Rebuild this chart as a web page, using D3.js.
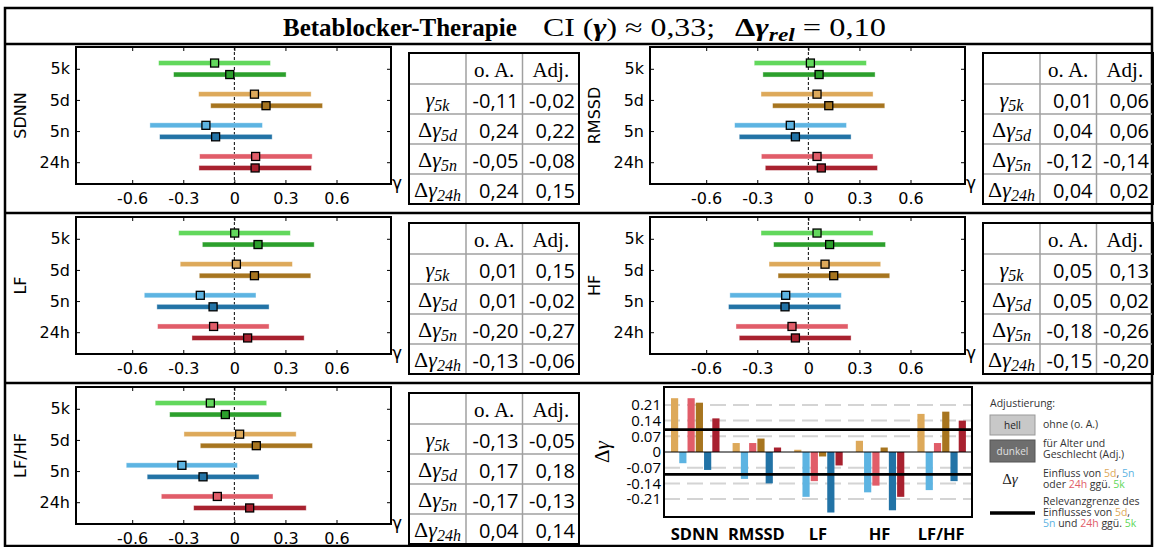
<!DOCTYPE html>
<html>
<head>
<meta charset="utf-8">
<script src="https://cdn.jsdelivr.net/npm/d3@7"></script>
<style>
body { margin: 0; background: #fff; }
svg text { white-space: pre; }
</style>
</head>
<body>
<div id="chart"></div>
<script>
var categories = ["5k", "5d", "5n", "24h"];
var gammaTicks = [-0.6, -0.3, 0, 0.3, 0.6];

// [estimate, lower, upper] -- per time point: first o. A., then Adj.
var sdnnCI = [
    [-0.116, -0.445, 0.212], [-0.027, -0.357, 0.304],
    [0.118, -0.210, 0.451], [0.186, -0.139, 0.518],
    [-0.167, -0.496, 0.165], [-0.110, -0.439, 0.222],
    [0.125, -0.204, 0.457], [0.122, -0.208, 0.453]
];
var rmssdCI = [
    [0.012, -0.318, 0.341], [0.063, -0.267, 0.392],
    [0.051, -0.278, 0.380], [0.120, -0.210, 0.449],
    [-0.106, -0.433, 0.224], [-0.076, -0.406, 0.251],
    [0.051, -0.276, 0.380], [0.076, -0.253, 0.406]
];
var lfCI = [
    [0.002, -0.327, 0.329], [0.139, -0.188, 0.469],
    [0.012, -0.318, 0.341], [0.118, -0.206, 0.449],
    [-0.200, -0.529, 0.127], [-0.125, -0.455, 0.204],
    [-0.122, -0.451, 0.204], [0.078, -0.249, 0.410]
];
var hfCI = [
    [0.051, -0.278, 0.380], [0.125, -0.204, 0.453],
    [0.098, -0.231, 0.425], [0.149, -0.178, 0.478],
    [-0.133, -0.461, 0.194], [-0.137, -0.469, 0.190],
    [-0.096, -0.425, 0.233], [-0.076, -0.406, 0.251]
];
var lfhfCI = [
    [-0.141, -0.465, 0.190], [-0.053, -0.380, 0.276],
    [0.031, -0.296, 0.363], [0.129, -0.200, 0.459],
    [-0.308, -0.635, 0.018], [-0.184, -0.512, 0.145],
    [-0.100, -0.429, 0.227], [0.090, -0.239, 0.422]
];

// table values: gamma_5k, dgamma_5d, dgamma_5n, dgamma_24h
var tableHead = ["o. A.", "Adj."];
var sdnnOA = [-0.11, 0.24, -0.05, 0.24];
var sdnnAdj = [-0.02, 0.22, -0.08, 0.15];
var rmssdOA = [0.01, 0.04, -0.12, 0.04];
var rmssdAdj = [0.06, 0.06, -0.14, 0.02];
var lfOA = [0.01, 0.01, -0.20, -0.13];
var lfAdj = [0.15, -0.02, -0.27, -0.06];
var hfOA = [0.05, 0.05, -0.18, -0.15];
var hfAdj = [0.13, 0.02, -0.26, -0.20];
var lfhfOA = [-0.13, 0.17, -0.17, 0.04];
var lfhfAdj = [-0.05, 0.18, -0.13, 0.14];

var measures = ["SDNN", "RMSSD", "LF", "HF", "LF/HF"];
var deltaTicks = [-0.21, -0.14, -0.07, 0, 0.07, 0.14, 0.21];
var relevance = 0.10;

var lightColor = {"5k": "#62d85c", "5d": "#dda95a", "5n": "#5db4e2", "24h": "#e15d69"};
var darkColor = {"5k": "#2ca02c", "5d": "#a7751f", "5n": "#2273a6", "24h": "#a8212f"};

var W = 1155, H = 547;
var plotW = 315, plotH = 137;
var colX = [0, 574];
var rowY = [0, 170, 340];

var svg = d3.select("#chart").append("svg")
    .attr("width", W)
    .attr("height", H);

function fmtTick(d){
    return d === 0 ? "0" : d3.format(".1f")(d).replace("\u2212", "-");
}
function fmtComma(d){
    return d3.format(".2f")(d).replace("\u2212", "-").replace(".", ",");
}

// ---- frame + title
svg.append("rect")
    .attr("x", 5).attr("y", 8)
    .attr("width", 1147).attr("height", 538)
    .attr("fill", "none").attr("stroke", "#000").attr("stroke-width", 2.5);
[44, 213, 383].forEach(function(yy){
    svg.append("line")
        .attr("x1", 5).attr("x2", 1152).attr("y1", yy).attr("y2", yy)
        .attr("stroke", "#000").attr("stroke-width", 2.5);
});

var tfont = "Liberation Serif";
svg.append("text")
    .attr("x", 283).attr("y", 36)
    .style("font-family", tfont).style("font-size", "25px").style("font-weight", "bold")
    .text("Betablocker-Therapie");

var t2 = svg.append("text")
    .attr("x", 543).attr("y", 36)
    .attr("textLength", 172).attr("lengthAdjust", "spacingAndGlyphs")
    .style("font-family", tfont).style("font-size", "25px");
t2.append("tspan").text("CI (");
t2.append("tspan").style("font-weight", "bold").style("font-style", "italic").text("\u03b3");
t2.append("tspan").text(") \u2248 0,33;");

var t3 = svg.append("text")
    .attr("x", 735).attr("y", 36)
    .attr("textLength", 151).attr("lengthAdjust", "spacingAndGlyphs")
    .style("font-family", tfont).style("font-size", "25px");
t3.append("tspan").style("font-weight", "bold").text("\u0394");
t3.append("tspan").style("font-weight", "bold").style("font-style", "italic").text("\u03b3");
t3.append("tspan").attr("dy", 5).style("font-size", "18px").style("font-weight", "bold").style("font-style", "italic").text("rel");
t3.append("tspan").attr("dy", -5).text(" = 0,10");

var panels = [
    {name: "SDNN", ci: sdnnCI, oa: sdnnOA, adj: sdnnAdj, col: 0, row: 0},
    {name: "RMSSD", ci: rmssdCI, oa: rmssdOA, adj: rmssdAdj, col: 1, row: 0},
    {name: "LF", ci: lfCI, oa: lfOA, adj: lfAdj, col: 0, row: 1},
    {name: "HF", ci: hfCI, oa: hfOA, adj: hfAdj, col: 1, row: 1},
    {name: "LF/HF", ci: lfhfCI, oa: lfhfOA, adj: lfhfAdj, col: 0, row: 2}
];

function drawForest(p){
    var g = svg.append("g")
        .attr("transform", "translate(" + (76 + colX[p.col]) + "," + (47 + rowY[p.row]) + ")");
    var x = d3.scaleLinear().domain([-0.93, 0.92]).range([0, plotW]);
    var y = d3.scalePoint().domain(categories).range([0, plotH]).padding(0.7);

    g.append("line")
        .attr("x1", x(0)).attr("x2", x(0)).attr("y1", 0).attr("y2", plotH)
        .attr("stroke", "#000").attr("stroke-width", 1).attr("stroke-dasharray", "3,2");

    var rows = p.ci.map(function(d, i){
        return {cat: categories[Math.floor(i / 2)], adj: i % 2 === 1, est: d[0], lo: d[1], hi: d[2]};
    });
    function yOf(d){ return y(d.cat) + (d.adj ? 5.75 : -5.75); }
    function colOf(d){ return (d.adj ? darkColor : lightColor)[d.cat]; }

    g.selectAll(".ci").data(rows).enter().append("rect")
        .attr("class", "ci")
        .attr("x", function(d){ return x(d.lo); })
        .attr("width", function(d){ return x(d.hi) - x(d.lo); })
        .attr("y", function(d){ return yOf(d) - 2.5; })
        .attr("height", 5)
        .attr("fill", colOf)
        .attr("stroke", "#fff").attr("stroke-opacity", 0.5).attr("stroke-width", 0.8);

    g.selectAll(".est").data(rows).enter().append("rect")
        .attr("class", "est")
        .attr("x", function(d){ return x(d.est) - 4; })
        .attr("y", function(d){ return yOf(d) - 4; })
        .attr("width", 8).attr("height", 8)
        .attr("fill", colOf)
        .attr("stroke", "#000").attr("stroke-width", 1.3);

    var ax = [
        g.append("g").attr("transform", "translate(0," + plotH + ")")
            .call(d3.axisBottom(x).tickValues(gammaTicks).tickSize(-4).tickPadding(9).tickFormat(fmtTick)),
        g.append("g")
            .call(d3.axisTop(x).tickValues(gammaTicks).tickSize(-4).tickFormat("")),
        g.append("g")
            .call(d3.axisLeft(y).tickSize(-4).tickPadding(6)),
        g.append("g").attr("transform", "translate(" + plotW + ",0)")
            .call(d3.axisRight(y).tickSize(-4).tickFormat(""))
    ];
    ax.forEach(function(a){
        a.select(".domain").remove();
        a.attr("font-family", "DejaVu Sans").attr("font-size", 16);
        a.selectAll("text").attr("fill", "#000");
    });

    g.append("rect")
        .attr("width", plotW).attr("height", plotH)
        .attr("fill", "none").attr("stroke", "#000").attr("stroke-width", 2);

    g.append("text")
        .attr("transform", "translate(-50," + (plotH / 2) + ") rotate(-90)")
        .attr("text-anchor", "middle")
        .style("font-family", "DejaVu Sans").style("font-size", "16px")
        .text(p.name);

    g.append("text")
        .attr("x", plotW + 1).attr("y", plotH + 5)
        .style("font-family", "DejaVu Sans").style("font-size", "17px")
        .text("\u03b3");
}

function drawTable(p){
    var colW = [57, 56.5, 56.5];
    var headH = 31, rowH = 30;
    var tw = d3.sum(colW), th = headH + rowH * 4;
    var g = svg.append("g")
        .attr("transform", "translate(" + (409 + colX[p.col]) + "," + (53 + rowY[p.row]) + ")");
    var cx = [0, colW[0], colW[0] + colW[1], tw];

    // inner grid
    [1, 2].forEach(function(i){
        g.append("line").attr("x1", cx[i]).attr("x2", cx[i]).attr("y1", 0).attr("y2", th)
            .attr("stroke", "#a0a0a0").attr("stroke-width", 1.5);
    });
    d3.range(4).forEach(function(i){
        var yy = headH + rowH * i;
        g.append("line").attr("x1", 0).attr("x2", tw).attr("y1", yy).attr("y2", yy)
            .attr("stroke", "#a0a0a0").attr("stroke-width", 1.5);
    });
    g.append("rect").attr("width", tw).attr("height", th)
        .attr("fill", "none").attr("stroke", "#000").attr("stroke-width", 2);

    tableHead.forEach(function(h, i){
        g.append("text")
            .attr("x", (cx[i + 1] + cx[i + 2]) / 2).attr("y", headH - 7)
            .attr("text-anchor", "middle")
            .style("font-family", "Liberation Serif").style("font-size", "21px")
            .text(h);
    });

    categories.forEach(function(c, i){
        var base = headH + rowH * (i + 1) - 7;
        var lab = g.append("text")
            .attr("x", colW[0] / 2).attr("y", base)
            .attr("text-anchor", "middle")
            .style("font-family", "Liberation Serif").style("font-size", "22px");
        if (i > 0) lab.append("tspan").text("\u0394");
        lab.append("tspan").style("font-style", "italic").text("\u03b3");
        lab.append("tspan").attr("dy", 4).style("font-style", "italic").style("font-size", "16px").text(c);

        [p.oa[i], p.adj[i]].forEach(function(v, j){
            g.append("text")
                .attr("x", cx[j + 2] - 4).attr("y", base + 1)
                .attr("text-anchor", "end")
                .style("font-family", "Open Sans").style("font-size", "20px")
                .text(fmtComma(v));
        });
    });
}

panels.forEach(function(p){
    drawForest(p);
    drawTable(p);
});

// ---- bar chart of delta gamma
(function(){
    var left = 664, right = 972, top = 387, bottom = 517;
    var g = svg.append("g");
    var xb = d3.scaleBand().domain(measures).range([left, right]);
    var inner = d3.scaleBand().domain(d3.range(6)).range([7, 55.5]).paddingInner(0.13);
    var yb = d3.scaleLinear().domain([-0.29, 0.29]).range([bottom, top]);

    g.selectAll(".grid").data(deltaTicks.filter(function(d){ return d !== 0; })).enter().append("line")
        .attr("class", "grid")
        .attr("x1", left).attr("x2", right)
        .attr("y1", function(d){ return yb(d); }).attr("y2", function(d){ return yb(d); })
        .attr("stroke", "#d4d4d4").attr("stroke-width", 2).attr("stroke-dasharray", "16,7");

    var bars = [];
    panels.forEach(function(p){
        var slots = [1, 2, 3];
        slots.forEach(function(k, j){
            bars.push({m: p.name, slot: j, v: p.oa[k], c: lightColor[categories[k]]});
        });
        slots.forEach(function(k, j){
            bars.push({m: p.name, slot: j + 3, v: p.adj[k], c: darkColor[categories[k]]});
        });
    });

    g.selectAll(".bar").data(bars).enter().append("rect")
        .attr("class", "bar")
        .attr("x", function(d){ return xb(d.m) + inner(d.slot); })
        .attr("width", inner.bandwidth())
        .attr("y", function(d){ return yb(Math.max(0, d.v)); })
        .attr("height", function(d){ return Math.abs(yb(d.v) - yb(0)); })
        .attr("fill", function(d){ return d.c; });

    g.append("line")
        .attr("x1", left).attr("x2", right).attr("y1", yb(0)).attr("y2", yb(0))
        .attr("stroke", "#000").attr("stroke-width", 1);
    [relevance, -relevance].forEach(function(r){
        g.append("line")
            .attr("x1", left).attr("x2", right).attr("y1", yb(r)).attr("y2", yb(r))
            .attr("stroke", "#000").attr("stroke-width", 2.8);
    });

    g.append("rect")
        .attr("x", left).attr("y", top)
        .attr("width", right - left).attr("height", bottom - top)
        .attr("fill", "none").attr("stroke", "#000").attr("stroke-width", 2);

    var ay = g.append("g").attr("transform", "translate(" + left + ",0)")
        .call(d3.axisLeft(yb).tickValues(deltaTicks).tickSize(0).tickPadding(3)
            .tickFormat(function(d){ return d === 0 ? "0" : d3.format(".2f")(d).replace("\u2212", "-"); }));
    ay.select(".domain").remove();
    ay.attr("font-family", "Open Sans").attr("font-size", 15);
    ay.selectAll("text").attr("fill", "#000");

    g.selectAll(".mlab").data(measures).enter().append("text")
        .attr("class", "mlab")
        .attr("x", function(d){ return xb(d) + xb.bandwidth() / 2; })
        .attr("y", 540)
        .attr("text-anchor", "middle")
        .style("font-family", "Open Sans").style("font-weight", "bold").style("font-size", "16.5px")
        .text(function(d){ return d; });

    var yl = g.append("text")
        .attr("transform", "translate(609," + yb(0) + ") rotate(-90)")
        .attr("text-anchor", "middle")
        .style("font-family", "Liberation Serif").style("font-size", "21px");
    yl.append("tspan").text("\u0394");
    yl.append("tspan").style("font-style", "italic").text("\u03b3");
})();

// ---- legend
(function(){
    var g = svg.append("g")
        .style("font-family", "Open Sans").style("font-size", "10.5px").attr("fill", "#333");
    var tx = 1043;
    g.append("text").attr("x", 990).attr("y", 407).text("Adjustierung:");

    g.append("rect").attr("x", 990).attr("y", 415).attr("width", 45).attr("height", 20)
        .attr("fill", "#c8c8c8").attr("stroke", "#999");
    g.append("text").attr("x", 1012.5).attr("y", 429).attr("text-anchor", "middle")
        .style("font-size", "10px").attr("fill", "#222").text("hell");
    g.append("text").attr("x", tx).attr("y", 428).text("ohne (o. A.)");

    g.append("rect").attr("x", 990).attr("y", 440).attr("width", 45).attr("height", 22)
        .attr("fill", "#6e6e6e").attr("stroke", "#555");
    g.append("text").attr("x", 1012.5).attr("y", 455).attr("text-anchor", "middle")
        .style("font-size", "10px").attr("fill", "#e0e0e0").text("dunkel");
    g.append("text").attr("x", tx).attr("y", 447).text("f\u00fcr Alter und");
    g.append("text").attr("x", tx).attr("y", 458).text("Geschlecht (Adj.)");

    var dg = g.append("text").attr("x", 1010).attr("y", 484).attr("text-anchor", "middle")
        .style("font-family", "Liberation Serif").style("font-size", "15px").attr("fill", "#222");
    dg.append("tspan").text("\u0394");
    dg.append("tspan").style("font-style", "italic").text("\u03b3");

    function colored(y, parts){
        var el = g.append("text").attr("x", tx).attr("y", y);
        parts.forEach(function(pt){
            var s = el.append("tspan").text(pt[0]);
            if (pt[1]) s.attr("fill", lightColor[pt[1]]);
        });
    }
    colored(477, [["Einfluss von "], ["5d", "5d"], [", "], ["5n", "5n"]]);
    colored(488, [["oder "], ["24h", "24h"], [" gg\u00fc. "], ["5k", "5k"]]);

    g.append("line").attr("x1", 990).attr("x2", 1035).attr("y1", 513).attr("y2", 513)
        .attr("stroke", "#000").attr("stroke-width", 3.5);
    g.append("text").attr("x", tx).attr("y", 505).text("Relevanzgrenze des");
    colored(516, [["Einflusses von "], ["5d", "5d"], [","]]);
    colored(527, [["5n", "5n"], [" und "], ["24h", "24h"], [" gg\u00fc. "], ["5k", "5k"]]);
})();
</script>
</body>
</html>
